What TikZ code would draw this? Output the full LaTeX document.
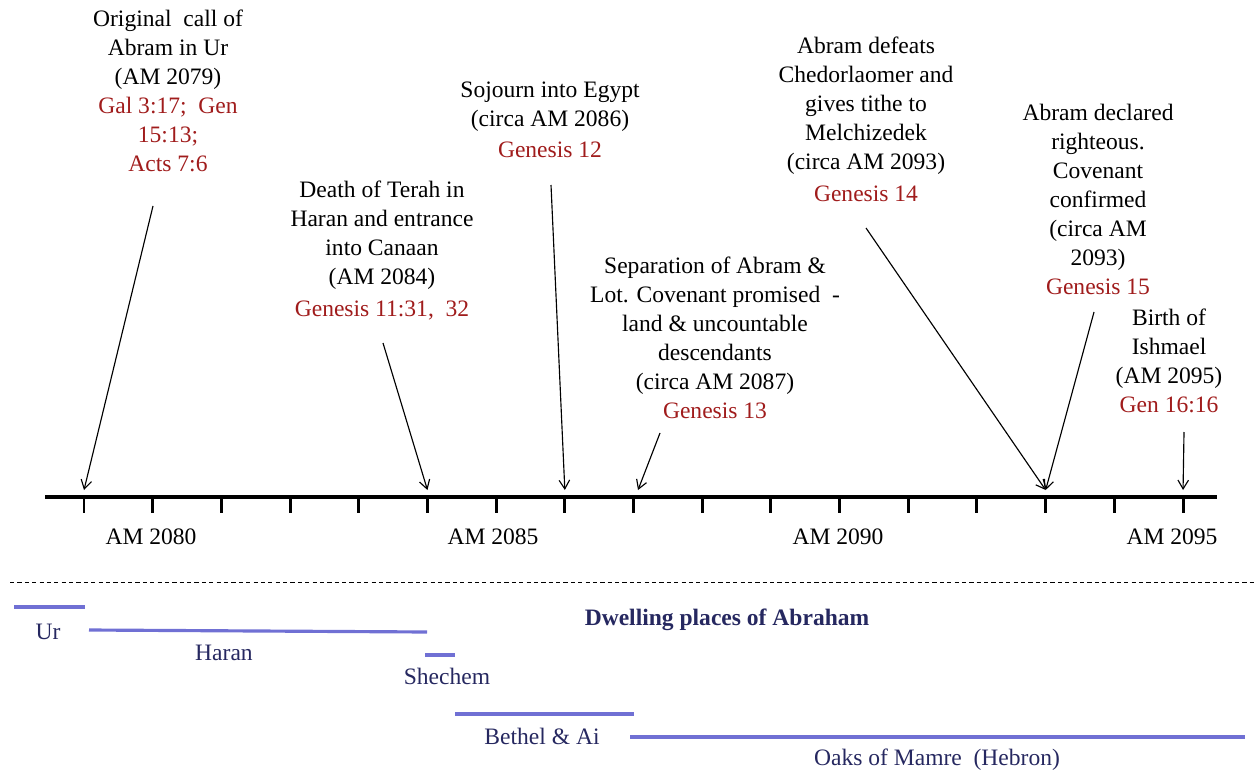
\documentclass[tikz,border=0pt]{standalone}
\usepackage{fontspec}
\setmainfont{Liberation Serif}
\newfontfamily\tnr{Liberation Serif}
\usetikzlibrary{arrows.meta}
\definecolor{refred}{RGB}{160,28,28}
\definecolor{barblue}{RGB}{112,112,212}
\definecolor{navy}{RGB}{38,40,96}
\begin{document}
\begin{tikzpicture}[x=0.02cm,y=-0.02cm,
  evt/.style={align=center,inner sep=0pt,anchor=north,font=\tnr\fontsize{13.4}{16.5}\selectfont,text=black},
  ticklbl/.style={inner sep=0pt,font=\tnr\fontsize{13.4}{16.5}\selectfont},
  place/.style={inner sep=0pt,font=\tnr\fontsize{13.4}{16.5}\selectfont,text=navy},
  ptitle/.style={inner sep=0pt,font=\tnr\fontsize{13.4}{16.5}\selectfont\bfseries,text=navy},
  axisline/.style={line width=2.3pt},
  tickline/.style={line width=1.7pt},
  arr/.style={line width=0.65pt,-{Straight Barb[length=5pt,width=6pt]}},
  bar/.style={line width=1.8pt,draw=barblue},
  sep/.style={line width=0.5pt,dash pattern=on 2.4pt off 1.8pt}
]
\useasboundingbox (0,0) rectangle (1256,770);

% axis
\draw[axisline] (45,497) -- (1217,497);
\foreach \i in {0,...,16}{
  \pgfmathsetmacro{\xx}{84+68.69*\i}
  \draw[tickline] (\xx,497) -- (\xx,513);
  \coordinate (t\i) at (\xx,490);
}
\node[ticklbl] (l2080) at (151,537) {AM 2080};
\node[ticklbl] (l2085) at (493,537) {AM 2085};
\node[ticklbl] (l2090) at (838,537) {AM 2090};
\node[ticklbl] (l2095) at (1172,537) {AM 2095};

% events
\node[evt] (eA) at (168,10) {Original~ call of\\Abram in Ur\\(AM 2079)\\\textcolor{refred}{Gal 3:17;~ Gen}\\\textcolor{refred}{15:13;}\\\textcolor{refred}{Acts 7:6}};
\node[evt] (eB) at (382,181) {Death of Terah in\\Haran and entrance\\into Canaan\\(AM 2084)\\[1.5pt]\textcolor{refred}{Genesis 11:31,~ 32}};
\node[evt] (eC) at (550,82) {Sojourn into Egypt\\(circa AM 2086)\\[1pt]\textcolor{refred}{Genesis 12}};
\node[evt] (eD) at (715,257) {Separation of Abram \&\\Lot. Covenant promised~ -\\land \& uncountable\\descendants\\(circa AM 2087)\\\textcolor{refred}{Genesis 13}};
\node[evt] (eE) at (866,37) {Abram defeats\\Chedorlaomer and\\gives tithe to\\Melchizedek\\(circa AM 2093)\\[1.5pt]\textcolor{refred}{Genesis 14}};
\node[evt] (eF) at (1098,104) {Abram declared\\righteous.\\Covenant\\confirmed\\(circa AM\\2093)\\\textcolor{refred}{Genesis 15}};
\node[evt] (eG) at (1169,309) {Birth of\\Ishmael\\(AM 2095)\\\textcolor{refred}{Gen 16:16}};

% arrow starts
\coordinate (sA) at (153,206);
\coordinate (sB) at (383,343);
\coordinate (sC) at (551,185);
\coordinate (sD) at (660,433);
\coordinate (sE) at (866,228);
\coordinate (sF) at (1094,312);
\coordinate (sG) at (1184,432);
\coordinate (eDt) at (638,490);

\draw[arr] (sA) -- (t0);
\draw[arr] (sB) -- (t5);
\draw[arr] (sC) -- (t7);
\draw[arr] (sD) -- (eDt);
\draw[arr] (sE) -- (t14);
\draw[arr] (sF) -- (t14);
\draw[arr] (sG) -- (t16);

% separator
\draw[sep] (10,582) -- (1256,582);

% dwelling places
\node[ptitle] (dtitle) at (727,620) {Dwelling places of Abraham};
\draw[bar] (14,607) -- (85,607);
\node[place] (pUr) at (48,632) {Ur};
\draw[bar] (89,630) -- (427,632);
\node[place] (pHaran) at (224,653) {Haran};
\draw[bar] (425,655) -- (455,655);
\node[place] (pShechem) at (447,676) {Shechem};
\draw[bar] (455,714) -- (634,714);
\node[place] (pBethel) at (542,736) {Bethel \& Ai};
\draw[bar] (630,737) -- (1245,737);
\node[place] (pMamre) at (937,760) {Oaks of Mamre~ (Hebron)};
\end{tikzpicture}
\end{document}
